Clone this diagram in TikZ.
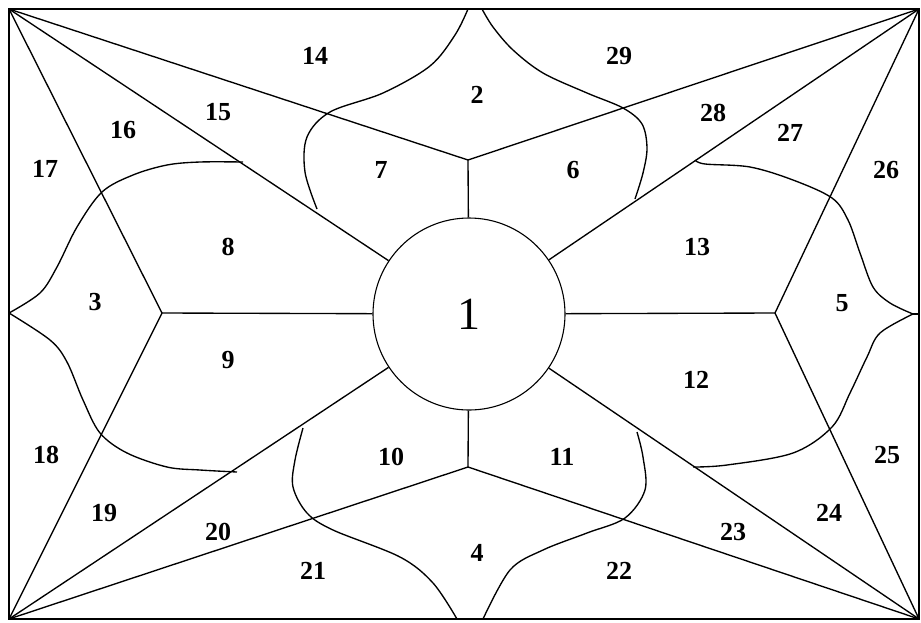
\documentclass[tikz,border=0pt]{standalone}
\usepackage{fontspec}
\setmainfont{Liberation Serif}
\usepackage{tikz}

\begin{document}
\begin{tikzpicture}[x=1pt,y=-1pt,line width=1.35pt,
    region/.style={font=\fontsize{26}{26}\bfseries\selectfont},
    lobe/.style={smooth,tension=0.55}]
    \useasboundingbox (0,0) rectangle (921,622);

    % Frame and corners
    \coordinate (tl) at (9,9);
    \coordinate (tr) at (919,9);
    \coordinate (bl) at (9,619);
    \coordinate (br) at (919,619);
    \draw (tl) rectangle (br);

    % Central circle
    \node[draw,circle,minimum size=192pt,inner sep=0pt,line width=1.1pt,
          font=\fontsize{46}{46}\selectfont] (c) at (469,314) {1};

    % Vertices of the cross
    \coordinate (vt) at (468,160);
    \coordinate (vb) at (468,467);
    \coordinate (vl) at (162,313);
    \coordinate (vr) at (775,313);
    \draw (c) -- (vt);
    \draw (c) -- (vb);
    \draw (c) -- (vl);
    \draw (c) -- (vr);

    % Rays from the corners
    \foreach \k in {tl,tr,bl,br}
        \draw (\k) -- (c);
    \draw (vt) -- (tl);
    \draw (vt) -- (tr);
    \draw (vl) -- (tl);
    \draw (vl) -- (bl);
    \draw (vr) -- (tr);
    \draw (vr) -- (br);
    \draw (vb) -- (bl);
    \draw (vb) -- (br);

    % Top lobe
    \draw plot[lobe] coordinates {(468,9) (455,35) (430,66) (383,93) (330,112)
        (307,137) (305,172) (317,209)};
    \draw plot[lobe] coordinates {(482,9) (493,27) (513,50) (543,73) (587,93)
        (623,108) (642,124) (647,148) (643,173) (635,199)};

    % Left lobe
    \draw plot[lobe] coordinates {(9,313) (40,293) (57,267) (77,227) (102,192)
        (133,175) (167,165) (200,162) (243,162)};
    \draw plot[lobe] coordinates {(9,313) (50,340) (67,362) (83,400) (100,433)
        (127,453) (167,467) (200,470) (237,472)};

    % Bottom lobe
    \draw plot[lobe] coordinates {(303,428) (295,460) (293,487) (307,513)
        (333,530) (400,557) (433,583) (457,619)};
    \draw plot[lobe] coordinates {(637,432) (643,457) (645,490) (625,518)
        (587,533) (543,550) (510,570) (483,619)};

    % Right lobe
    \draw plot[lobe] coordinates {(695,160) (705,164) (750,167) (793,180)
        (832,198) (848,220) (860,253) (873,287) (890,303) (913,314)};
    \draw plot[lobe] coordinates {(913,314) (880,333) (867,357) (850,393)
        (832,427) (793,453) (727,465) (693,467)};
    \draw (913,314) -- (919,314);

    % Region numbers
    \foreach \n/\x/\y in {2/477/95, 3/95/302, 4/477/553, 5/842/303,
        6/573/170, 7/381/170, 8/228/247, 9/228/360, 10/391/457, 11/562/457,
        12/696/380, 13/697/247, 14/315/56, 15/218/112, 16/123/130,
        17/45/169, 18/46/455, 19/104/513, 20/218/532, 21/313/571,
        22/619/571, 23/733/532, 24/829/513, 25/887/455, 26/886/170,
        27/790/133, 28/713/113, 29/619/56}
        \node[region] (r\n) at (\x,\y) {\n};
\end{tikzpicture}
\end{document}
